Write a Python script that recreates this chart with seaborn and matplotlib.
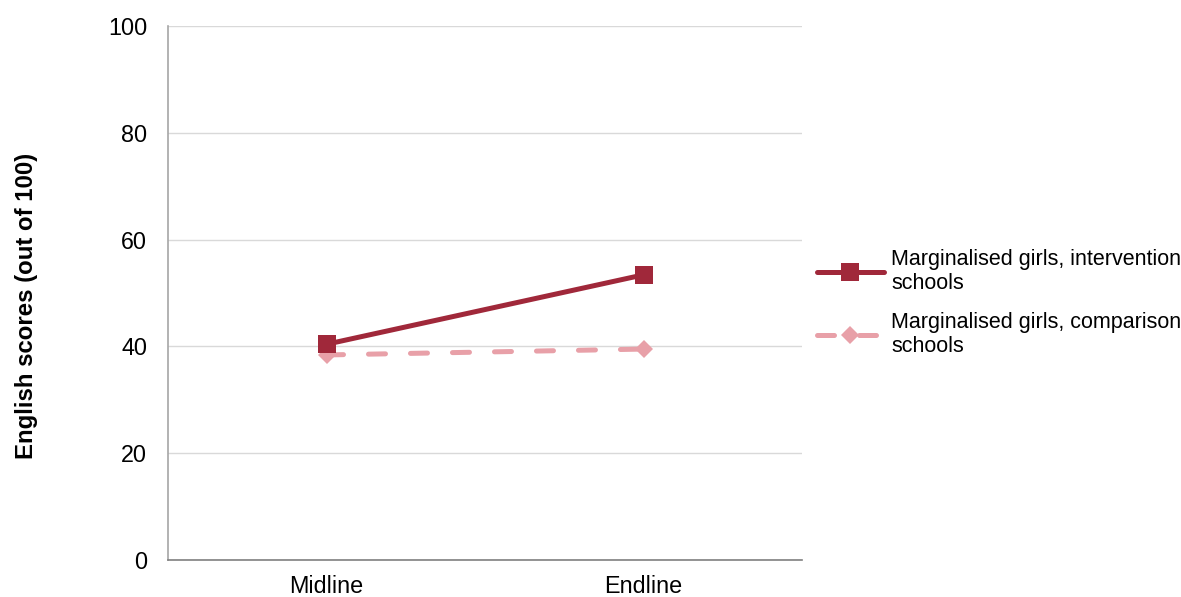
import matplotlib
matplotlib.use("Agg")
import matplotlib.pyplot as plt
import seaborn as sns
import pandas as pd

categories = ["Midline", "Endline"]
intervention = [40.4, 53.4]
comparison = [38.4, 39.5]
series_names = ["Marginalised girls, intervention\nschools",
                "Marginalised girls, comparison\nschools"]
yticks = [0, 20, 40, 60, 80, 100]

sns.set_style("white")
plt.rcParams['font.family'] = ['Liberation Sans', 'DejaVu Sans']
plt.rcParams['text.color'] = 'black'
plt.rcParams['axes.labelcolor'] = 'black'

fig = plt.figure(figsize=(11.81, 5.97), dpi=100)
ax = fig.add_axes([168/1181, 37/597, (802-168)/1181, (560-26)/597])

df_i = pd.DataFrame({"phase": categories, "score": intervention})
df_c = pd.DataFrame({"phase": categories, "score": comparison})

sns.lineplot(data=df_c, x="phase", y="score", ax=ax, color="#E8A0A8",
             linewidth=3.6, marker="D", markersize=9, markeredgewidth=0,
             linestyle=(0, (3.4, 5.0)), dash_capstyle="round",
             label=series_names[1], zorder=3)
sns.lineplot(data=df_i, x="phase", y="score", ax=ax, color="#A0283A",
             linewidth=3.6, marker="s", markersize=13, markeredgewidth=0,
             label=series_names[0], zorder=4, solid_capstyle="round")

ax.set_xlim(-0.5, 1.5)
ax.set_ylim(0, 100)
ax.set_yticks(yticks)
ax.set_xticks(range(len(categories)))
ax.set_xticklabels(categories)
ax.grid(axis="y", color="#D9D9D9", linewidth=1)
ax.grid(axis="x", visible=False)
ax.set_axisbelow(True)
for s in ["top", "right"]:
    ax.spines[s].set_visible(False)
ax.spines["left"].set_color("#A6A6A6")
ax.spines["left"].set_linewidth(1.2)
ax.spines["bottom"].set_color("#808080")
ax.spines["bottom"].set_linewidth(1.2)
ax.tick_params(axis="both", length=0, labelsize=16.8, colors="black")
ax.tick_params(axis="y", pad=15)
ax.tick_params(axis="x", pad=11)
ax.set_xlabel("")
ax.set_ylabel("English scores (out of 100)", fontsize=17.3, fontweight="bold")
ax.yaxis.set_label_coords(-130/634, 0.5 - 13/534)

handles, labels = ax.get_legend_handles_labels()
order = [1, 0]
leg = ax.legend([handles[i] for i in order], [labels[i] for i in order],
                loc="center left", bbox_to_anchor=(0.993, 0.481), frameon=False,
                fontsize=15.5, handlelength=3.1, handletextpad=0.35,
                labelspacing=0.85, borderaxespad=0.5)

fig.savefig("out.png", dpi=100)
